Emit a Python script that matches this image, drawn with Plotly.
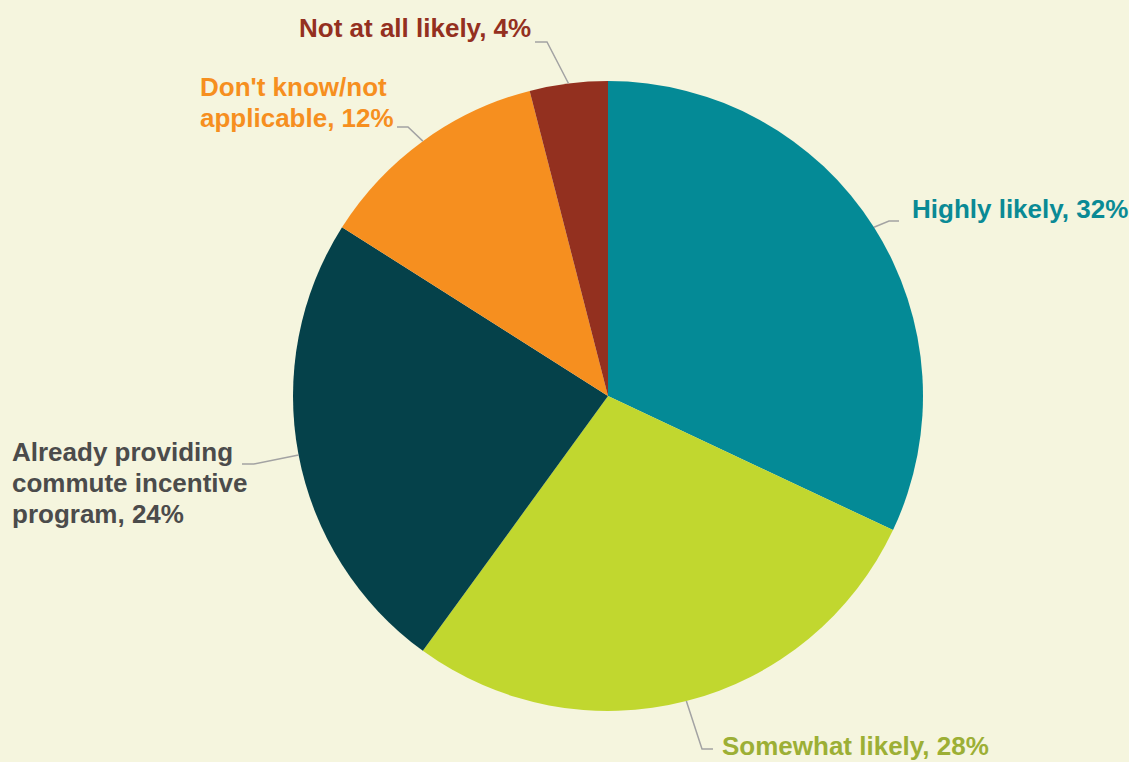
import math
import plotly.graph_objects as go

# ---- data ----
categories = ["Highly likely", "Somewhat likely",
              "Already providing commute incentive program",
              "Don't know/not applicable", "Not at all likely"]
values = [32, 28, 24, 12, 4]
label_lines = [
    ["Highly likely, 32%"],
    ["Somewhat likely, 28%"],
    ["Already providing", "commute incentive", "program, 24%"],
    ["Don't know/not", "applicable, 12%"],
    ["Not at all likely, 4%"],
]

# ---- style ----
W, H = 1129, 762
BG = "#F5F5DE"
slice_colors = ["#048A96", "#C1D72F", "#05414A", "#F68F1F", "#93301F"]
text_colors = ["#0A8A95", "#9CAF35", "#4B4B4B", "#F68F1F", "#94301F"]
CX, CY, R = 608, 396, 315  # pie centre / radius in pixels
LINE_GAP = 31

def px(x):
    return x / W

def py(y):
    return 1 - y / H

# label anchor (left x, middle y) and leader elbow/end points, in pixels
label_pos = [(910, 209), (720, 746), (10, 483), (198, 103), (297, 28)]
leader_pts = [
    [(889, 221), (899, 221)],
    [(702, 749), (713, 749)],
    [(254, 464), (242, 464)],
    [(408, 127), (397, 127)],
    [(547, 42), (535, 42)],
]

fig = go.Figure(go.Pie(
    labels=categories,
    values=values,
    sort=False,
    direction="clockwise",
    rotation=0,
    marker=dict(colors=slice_colors, line=dict(width=0)),
    textinfo="none",
    hoverinfo="label+percent",
    showlegend=False,
    domain=dict(x=[px(CX - R), px(CX + R)], y=[py(CY + R), py(CY - R)]),
))

total = sum(values)
cum = 0
shapes = []
annotations = []
for i, v in enumerate(values):
    mid = (cum + v / 2) / total * 2 * math.pi
    cum += v
    sx = CX + R * math.sin(mid)
    sy = CY - R * math.cos(mid)
    pts = [(sx, sy)] + leader_pts[i]
    path = "M " + " L ".join(f"{px(x):.5f},{py(y):.5f}" for x, y in pts)
    shapes.append(dict(type="path", xref="paper", yref="paper", path=path,
                       line=dict(color="#A3A3A3", width=1.5)))
    lx, ly = label_pos[i]
    n = len(label_lines[i])
    for k, line in enumerate(label_lines[i]):
        yk = ly + (k - (n - 1) / 2) * LINE_GAP
        annotations.append(dict(
            x=px(lx), y=py(yk), xref="paper", yref="paper",
            xanchor="left", yanchor="middle", align="left",
            text=line, showarrow=False,
            font=dict(family="Liberation Sans, Arial, sans-serif", size=26,
                      color=text_colors[i], weight="bold"),
        ))

fig.update_layout(
    width=W, height=H,
    margin=dict(l=0, r=0, t=0, b=0),
    paper_bgcolor=BG, plot_bgcolor=BG,
    shapes=shapes, annotations=annotations,
)

fig.write_html(
    "out.html",
    config={"displayModeBar": False},
    post_script=(
        "document.body.style.margin='0';"
        "document.body.style.padding='0';"
        "document.body.style.overflow='hidden';"
        f"document.body.style.background='{BG}';"
    ),
)
